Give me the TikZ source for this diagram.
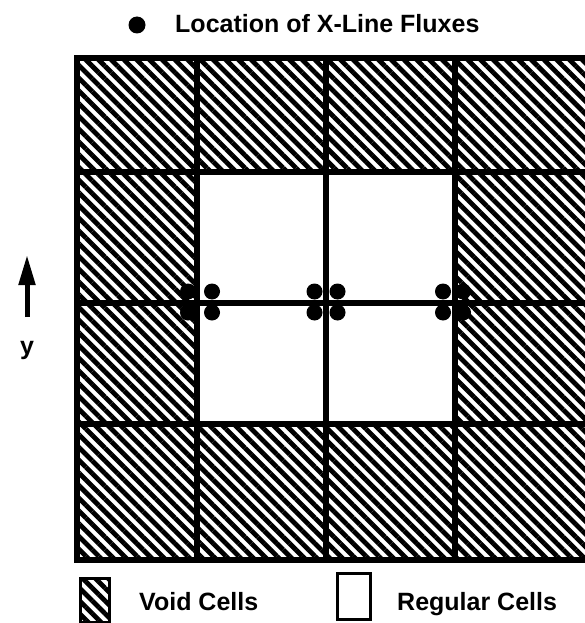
\documentclass[tikz,border=0pt]{standalone}
\usepackage{fontspec}
\setmainfont{Liberation Sans}
\usetikzlibrary{patterns.meta,arrows.meta}
\tikzset{
  voidcell/.style={pattern={Lines[angle=-45,distance=9pt,line width=4.8pt]}},
  gridline/.style={line width=5.5pt},
  fluxdot/.style={fill=black},
  lbl/.style={font=\bfseries\fontsize{25}{27}\selectfont, inner sep=0pt},
}
\begin{document}
\begin{tikzpicture}[x=1pt,y=-1pt]
\useasboundingbox (0,0) rectangle (585,623);
\begin{scope}
\clip (0,0) rectangle (585,623);
% hatched void cells
\fill[voidcell] (77,58) rectangle (600,172);
\fill[voidcell] (77,424) rectangle (600,560);
\fill[voidcell] (77,172) rectangle (197,424);
\fill[voidcell] (455,172) rectangle (600,424);
% grid lines
\draw[gridline,line width=6.5pt] (600,58) -- (77,58) -- (77,560) -- (600,560);
\foreach \yy in {172,303,424} \draw[gridline] (74,\yy) -- (600,\yy);
\foreach \xx in {197,326,455} \draw[gridline] (\xx,58) -- (\xx,560);
% flux dots
\foreach \cx/\dx in {200/12,326/11.5,453/10}{
  \foreach \sx in {-1,1}{\foreach \sy in {-1,1}{
    \fill[fluxdot] (\cx+\sx*\dx,302+\sy*10.5) circle (8);
  }}
}
\end{scope}
% title
\fill[fluxdot] (137,25) circle (8.5);
\node[lbl,anchor=base west] (title) at (175,33) {Location of X-Line Fluxes};
% y arrow
\coordinate (ytail) at (27,317);
\coordinate (yhead) at (27,255);
\draw[line width=5pt,-{Triangle[length=30pt,width=16pt]}] (ytail) -- (yhead);
\node[lbl,anchor=center] (ylabel) at (27,350) {y};
% legend
\draw[voidcell] (80,578) rectangle (109,622);
\draw[line width=3pt] (80,578) rectangle (109,622);
\node[lbl,anchor=base west] (voidlbl) at (139,610) {Void Cells};
\draw[line width=3pt] (337,573) rectangle (370,619);
\node[lbl,anchor=base west] (reglbl) at (397,610) {Regular Cells};
\end{tikzpicture}
\end{document}
